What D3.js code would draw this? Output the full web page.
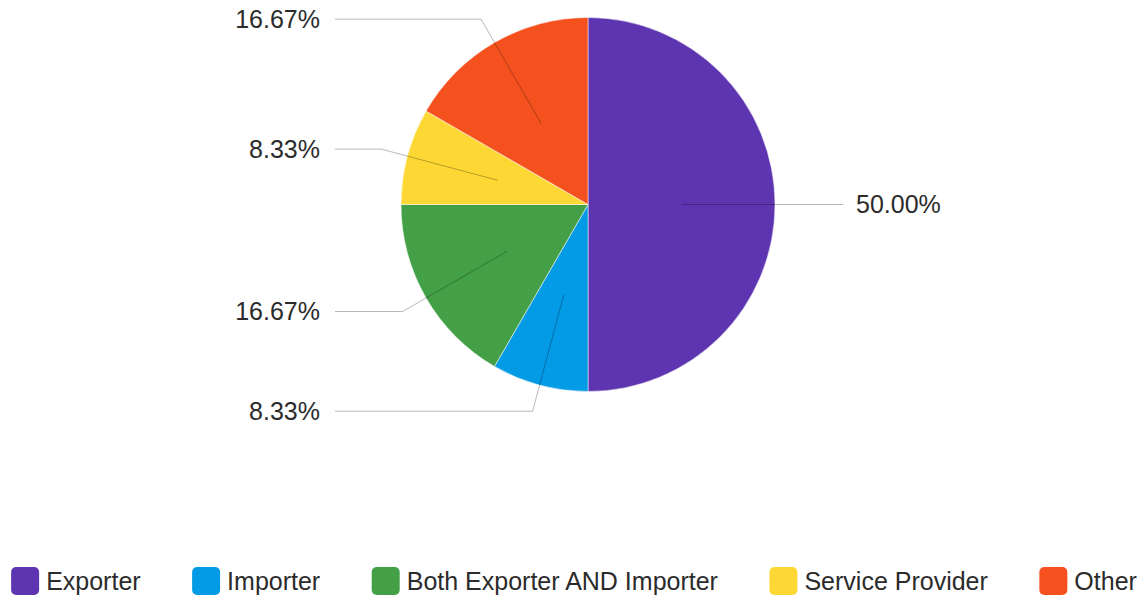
<!DOCTYPE html>
<html>
<head>
<meta charset="utf-8">
<script src="https://cdn.jsdelivr.net/npm/d3@7"></script>
<style>
  html, body { margin: 0; padding: 0; background: #fff; }
  svg { display: block; }
  text { font-family: "Liberation Sans", Arial, sans-serif; }
</style>
</head>
<body>
<svg id="chart" width="1142" height="598"></svg>
<script>
// Respondent types and counts
const categories = ["Exporter", "Importer", "Both Exporter AND Importer", "Service Provider", "Other"];
const counts = [6, 1, 2, 1, 2];
const sliceColors = ["#5e35b1", "#039be5", "#43a047", "#fdd835", "#f4511e"];

const width = 1142, height = 598;
const cx = 588, cy = 204.5, radius = 187;
const fontSize = 25;

const svg = d3.select("#chart");
const total = d3.sum(counts);
const data = categories.map((c, i) => ({ name: c, value: counts[i], color: sliceColors[i] }));

const pie = d3.pie().value(d => d.value).sort(null).startAngle(0).endAngle(2 * Math.PI);
const arcs = pie(data);
const arc = d3.arc().innerRadius(0).outerRadius(radius);

const g = svg.append("g").attr("transform", `translate(${cx},${cy})`);

g.selectAll("path.slice")
  .data(arcs)
  .join("path")
  .attr("class", "slice")
  .attr("d", arc)
  .attr("fill", d => d.data.color)
  .attr("stroke", "#fff")
  .attr("stroke-width", 1)
  .attr("stroke-opacity", 0.5);

// Leader lines and percentage labels
const innerR = radius * 0.5, bendR = radius + 27;
const leftX = -253, rightX = 255;

arcs.forEach(a => {
  const mid = (a.startAngle + a.endAngle) / 2;
  const sx = Math.sin(mid), sy = -Math.cos(mid);
  const p0 = [innerR * sx, innerR * sy];
  const p1 = [bendR * sx, bendR * sy];
  const right = sx > 0;
  const p2 = [right ? rightX : leftX, p1[1]];
  g.append("polyline")
    .attr("points", [p0, p1, p2].map(p => p.join(",")).join(" "))
    .attr("fill", "none")
    .attr("stroke", "#000")
    .attr("stroke-opacity", 0.28)
    .attr("stroke-width", 1);
  g.append("text")
    .attr("x", right ? p2[0] + 13 : p2[0] - 15)
    .attr("y", p2[1])
    .attr("dy", "0.35em")
    .attr("text-anchor", right ? "start" : "end")
    .attr("font-size", fontSize)
    .attr("fill", "#2b2b2b")
    .text((a.data.value / total * 100).toFixed(2) + "%");
});

// Legend
const legend = svg.append("g");
const markerSize = 28, markerGap = 7, itemGap = 51.5, legendY = 581;
const items = legend.selectAll("g.item").data(data).join("g").attr("class", "item");
items.append("rect")
  .attr("width", markerSize).attr("height", markerSize)
  .attr("y", -markerSize / 2)
  .attr("rx", 5).attr("ry", 5)
  .attr("fill", d => d.color);
items.append("text")
  .attr("x", markerSize + markerGap)
  .attr("dy", "0.35em")
  .attr("font-size", fontSize)
  .attr("fill", "#2b2b2b")
  .text(d => d.name);

const widths = [];
items.each(function() {
  const w = markerSize + markerGap + d3.select(this).select("text").node().getComputedTextLength();
  widths.push(w);
});
const totalW = d3.sum(widths) + itemGap * (widths.length - 1);
let start = (width - totalW) / 2 + 3;
items.attr("transform", (d, i) => {
  const t = `translate(${start},${legendY})`;
  start += widths[i] + itemGap;
  return t;
});
</script>
</body>
</html>
